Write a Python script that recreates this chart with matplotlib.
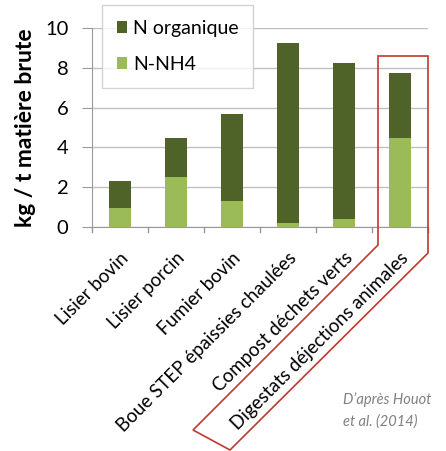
import matplotlib.pyplot as plt
from matplotlib.patches import Polygon

plt.rcParams['font.family'] = ['Lato', 'DejaVu Sans']

categories = ["Lisier bovin", "Lisier porcin", "Fumier bovin",
              "Boue STEP épaissies chaulées", "Compost déchets verts",
              "Digestats déjections animales"]
n_nh4 = [0.95, 2.5, 1.3, 0.2, 0.4, 4.45]
n_org = [1.35, 1.95, 4.4, 9.05, 7.85, 3.3]

dark = "#4f6228"
light = "#9bbb59"

W, H = 446, 451
fig = plt.figure(figsize=(W / 100, H / 100), dpi=100)
ax = fig.add_axes([92 / W, 1 - 227 / H, 336 / W, 199 / H])

x = range(len(categories))
ax.bar(x, n_nh4, width=0.4, color=light, label="N-NH4", zorder=3)
ax.bar(x, n_org, width=0.4, bottom=n_nh4, color=dark, label="N organique", zorder=3)

ax.set_xlim(-0.5, len(categories) - 0.5)
ax.set_ylim(0, 10)
ax.set_yticks([0, 2, 4, 6, 8, 10])
ax.yaxis.grid(True, color="#c0c0c0", linewidth=1)
ax.set_axisbelow(True)
for s in ["top", "right"]:
    ax.spines[s].set_visible(False)
for s in ["left", "bottom"]:
    ax.spines[s].set_color("#9a9a9a")
ax.tick_params(axis="y", length=7, color="#9a9a9a", labelsize=14.5, pad=10)
ax.tick_params(axis="x", length=0, labelsize=13.5, pad=16)

# category separators below the x axis
for i in range(len(categories) + 1):
    ax.plot([i - 0.5, i - 0.5], [0, -0.25], color="#9a9a9a", lw=1, clip_on=False)

ax.set_xticks(list(x))
ax.set_xticklabels(categories, rotation=45, ha="right", rotation_mode="anchor")
ax.set_ylabel("kg / t matière brute", fontsize=16.5, fontweight="bold")
ax.yaxis.set_label_coords(-56 / 336, 0.5)

handles, labels = ax.get_legend_handles_labels()
leg = fig.legend(handles[::-1], labels[::-1], loc="upper left",
                 bbox_to_anchor=(102 / W, 1 - 5 / H), fontsize=14,
                 frameon=True, fancybox=False, edgecolor="#c8c8c8",
                 handlelength=0.55, handleheight=0.55, handletextpad=0.3,
                 labelspacing=1.0, borderpad=0.75, borderaxespad=0)
leg.get_frame().set_linewidth(1)

# red outline around the last category and its label
pts = [(378, 56), (428, 56), (428, 253), (230, 450), (193, 430), (378, 245)]
fig.patches.append(Polygon([(px / W, 1 - py / H) for px, py in pts], closed=True,
                           fill=False, edgecolor="#c0392b", linewidth=1.2,
                           transform=fig.transFigure, figure=fig))

fig.text(343 / W, 1 - 400 / H, "D’après Houot", fontsize=10.5, style="italic",
         color="#808080", va="center")
fig.text(343 / W, 1 - 422 / H, "et al. (2014)", fontsize=10.5, style="italic",
         color="#808080", va="center")

fig.savefig("out.png", dpi=100)
